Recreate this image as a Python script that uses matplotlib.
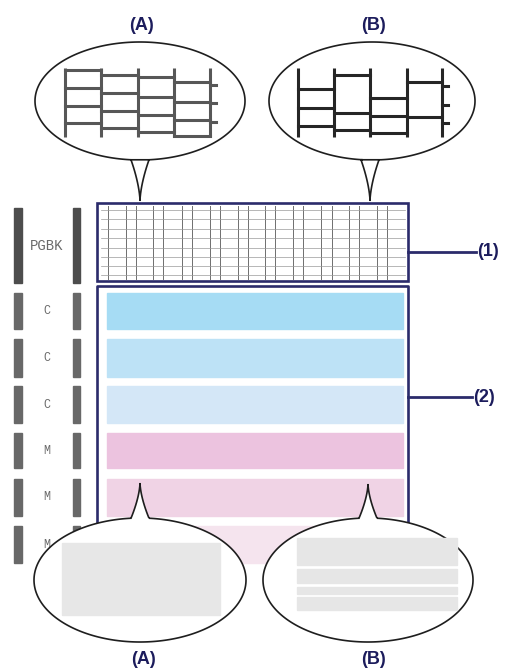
"""
Nozzle check pattern diagram: black grid block (1) and colour bands (2),
with callout bubbles showing a good (A) and a faulty (B) print.
"""

import numpy as np
import matplotlib.pyplot as plt
from matplotlib.path import Path
from matplotlib.patches import PathPatch, Rectangle

# ── Pattern contents ───────────────────────────────────────────────────────
ROW_LABELS = ["PGBK", "C", "C", "C", "M", "M", "M"]
ROW_TOPS = [208, 293, 339, 386, 433, 479, 526]
ROW_BOTTOMS = [283, 329, 377, 423, 468, 516, 563]
BAND_COLORS = ["#a6dcf4", "#bde2f6", "#d4e7f7", "#ecc3df", "#f0d3e5", "#f5e4ee"]

# fine grid inside the PGBK block
GRID_X = [108, 126, 136, 153, 163, 182, 192, 210, 220, 238, 248, 265, 275,
          293, 303, 321, 332, 349, 359, 377, 387]
GRID_Y = [210, 219, 229, 238, 248, 257, 266, 275]

# zoomed grid in bubble (A): straight ruling, small steps per column
A_COLS = [65, 101, 138, 174, 210]
A_ROWS = [[70, 88, 106, 123], [75, 93, 111, 128], [77, 97, 115, 132], [82, 102, 120, 136]]
A_TICKS = [85, 103, 122]

# zoomed grid in bubble (B): misaligned ruling, missing lines
B_COLS = [298, 334, 370, 407, 442]
B_ROWS = [[89, 108, 126], [75, 113, 130], [98, 116, 133], [82, 117]]
B_TICKS = [86, 105, 123]

# colour band close-ups in the lower bubbles
A_BAND = (543, 615)
B_STRIPES = [(538, 565), (569, 583), (587, 594), (597, 610)]

NAVY = "#2b2b6b"
LABEL_NAVY = "#1c1c5c"


def bubble(ax, cx, cy, a, b, apex, tail_down=True):
    """Ellipse outline with a narrow, concave tail pointing at `apex`."""
    half = 9
    d = np.arcsin(half / a)
    base = np.pi / 2 if tail_down else 3 * np.pi / 2
    t = np.linspace(base + d, base - d + 2 * np.pi, 300)
    xs = cx + a * np.cos(t)
    ys = cy + b * np.sin(t)
    verts = list(zip(xs, ys))
    s = np.linspace(0, 1, 12)
    y_tail = ys[-1] + s * (apex[1] - ys[-1])
    left = apex[0] - half * (1 - s) ** 1.6
    right = apex[0] + half * (1 - s) ** 1.6
    verts += list(zip(left, y_tail))
    verts += list(zip(right[::-1], y_tail[::-1]))
    codes = [Path.MOVETO] + [Path.LINETO] * (len(verts) - 1)
    ax.add_patch(PathPatch(Path(verts, codes), facecolor="white",
                           edgecolor="#1e1e1e", linewidth=1.2, zorder=5))


def zoom_grid(ax, cols, rows, ticks, color):
    for x in cols:
        ax.plot([x, x], [68, 137], color=color, linewidth=2.2, zorder=6,
                solid_capstyle="butt")
    for i, ys in enumerate(rows):
        for y in ys:
            ax.plot([cols[i], cols[i + 1]], [y, y], color=color, linewidth=2.2, zorder=6)
    for y in ticks:
        ax.plot([cols[-1], cols[-1] + 6], [y, y], color=color, linewidth=2.2, zorder=6)


fig = plt.figure(figsize=(5.08, 6.70), dpi=100)
ax = fig.add_axes([0, 0, 1, 1])
ax.set_xlim(0, 508)
ax.set_ylim(670, 0)
ax.axis("off")

# ── left row markers ──
for i, (lab, top, bot) in enumerate(zip(ROW_LABELS, ROW_TOPS, ROW_BOTTOMS)):
    c = "#4d4d4d" if i == 0 else "#686868"
    ax.add_patch(Rectangle((14, top), 8, bot - top, color=c, zorder=1))
    ax.add_patch(Rectangle((73, top), 7, bot - top, color=c, zorder=1))
    ax.text(47, (top + bot) / 2, lab, family="Liberation Mono",
            fontsize=10 if i == 0 else 8.5, color="#6a6a6a",
            ha="center", va="center", zorder=1)

# ── block (1): PGBK grid ──
for x in GRID_X:
    ax.plot([x, x], [206, 279], color="#6e6e6e", linewidth=0.7, zorder=2)
for y in GRID_Y:
    ax.plot([101, 405], [y, y], color="#9a9a9a", linewidth=0.5, zorder=2)
ax.add_patch(Rectangle((97, 203), 311, 78, fill=False, edgecolor=NAVY,
                       linewidth=1.9, zorder=3))

# ── block (2): colour bands ──
for top, bot, col in zip(ROW_TOPS[1:], ROW_BOTTOMS[1:], BAND_COLORS):
    ax.add_patch(Rectangle((107, top), 296, bot - top, color=col, zorder=2))
ax.plot([97, 97, 408, 408], [570, 286, 286, 570], color=NAVY,
        linewidth=1.9, zorder=3)

# leader lines and labels
ax.plot([408, 476], [252, 252], color=NAVY, linewidth=2.0, zorder=3)
ax.text(477, 252, "(1)", fontsize=13, fontweight="bold", color=LABEL_NAVY,
        family="Liberation Sans", ha="left", va="center")
ax.plot([408, 472], [397, 397], color=NAVY, linewidth=2.0, zorder=3)
ax.text(473, 397, "(2)", fontsize=13, fontweight="bold", color=LABEL_NAVY,
        family="Liberation Sans", ha="left", va="center")

# ── top bubbles ──
bubble(ax, 140, 101, 105, 59, (140, 201), tail_down=True)
bubble(ax, 372, 101, 103, 59, (370, 201), tail_down=True)
zoom_grid(ax, A_COLS, A_ROWS, A_TICKS, "#575757")
zoom_grid(ax, B_COLS, B_ROWS, B_TICKS, "#262626")

# ── bottom bubbles ──
bubble(ax, 140, 580, 106, 62, (140, 483), tail_down=False)
bubble(ax, 368, 580, 105, 62, (368, 484), tail_down=False)
ax.add_patch(Rectangle((62, A_BAND[0]), 158, A_BAND[1] - A_BAND[0],
                       color="#e7e7e7", zorder=6))
for top, bot in B_STRIPES:
    ax.add_patch(Rectangle((297, top), 160, bot - top, color="#e6e6e6", zorder=6))

# ── (A) / (B) captions ──
for x, y, s in [(141, 26, "(A)"), (373, 26, "(B)"), (143, 660, "(A)"), (373, 660, "(B)")]:
    ax.text(x, y, s, fontsize=13, fontweight="bold", color=LABEL_NAVY,
            family="Liberation Sans", ha="center", va="center")

plt.savefig("out.png", dpi=100)
plt.close()
